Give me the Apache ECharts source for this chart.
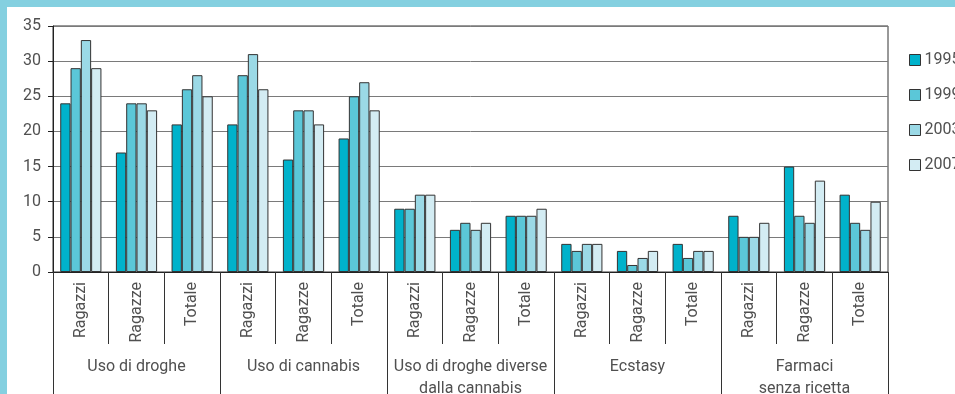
<!DOCTYPE html>
<html><head><meta charset="utf-8">
<script src="https://cdn.jsdelivr.net/npm/echarts@6/dist/echarts.min.js"></script>
<style>
html,body{margin:0;padding:0;}
#wrap{position:relative;width:955px;height:394px;background:#84d0e0;overflow:hidden;}
#panel{position:absolute;left:7px;top:7px;width:948px;height:387px;background:#fff;}
#chart{position:absolute;left:0;top:0;width:955px;height:394px;}
</style></head>
<body>
<div id="wrap"><div id="panel"></div><div id="chart"></div></div>
<script>
const categories = ['Ragazzi','Ragazze','Totale','Ragazzi','Ragazze','Totale','Ragazzi','Ragazze','Totale','Ragazzi','Ragazze','Totale','Ragazzi','Ragazze','Totale'];
const groups = ['Uso di droghe','Uso di cannabis','Uso di droghe diverse\ndalla cannabis','Ecstasy','Farmaci\nsenza ricetta'];
const years = ['1995','1999','2003','2007'];
const v1995 = [24,17,21, 21,16,19, 9,6,8, 4,3,4, 8,15,11];
const v1999 = [29,24,26, 28,23,25, 9,7,8, 3,1,2, 5,8,7];
const v2003 = [33,24,28, 31,23,27, 11,6,8, 4,2,3, 5,7,6];
const v2007 = [29,23,25, 26,21,23, 11,7,9, 4,3,3, 7,13,10];
const yTicks = {min:0, max:35, interval:5};

const colors = ['#00b2cb','#5bc7d8','#9bd9e6','#d3ecf3'];
const font = 'Roboto';
const txt = '#505050';
const values = [v1995,v1999,v2003,v2007];

const chart = echarts.init(document.getElementById('chart'), null, {renderer:'canvas'});
chart.setOption({
  animation:false,
  backgroundColor:'transparent',
  color:colors,
  textStyle:{fontFamily:font},
  grid:[
    {left:53,right:67,top:26,bottom:122,outerBoundsMode:'none',containLabel:false,show:true,borderColor:'#333',borderWidth:1,backgroundColor:'#fff'},
    {left:53,right:67,top:26,bottom:122,outerBoundsMode:'none',containLabel:false,show:false}
  ],
  legend:{
    orient:'vertical', left:904, top:47,
    icon:'rect',
    itemWidth:11, itemHeight:11, itemGap:19,
    data:years,
    textStyle:{fontFamily:font,fontWeight:400,fontSize:16,lineHeight:16,color:txt,padding:[0,0,0,-1]},
    itemStyle:{borderColor:'#333',borderWidth:1}
  },
  xAxis:[
    {type:'category',gridIndex:0,data:categories,
     axisLine:{lineStyle:{color:'#222',width:1}},
     axisTick:{show:true,interval:0,length:72,lineStyle:{color:'#333'}},
     axisLabel:{interval:0,rotate:90,margin:10,fontFamily:font,fontWeight:400,fontSize:16,color:txt}},
    {type:'category',gridIndex:1,data:groups,position:'bottom',
     axisLine:{show:false},
     axisTick:{show:true,interval:0,length:122,lineStyle:{color:'#333'}},
     axisLabel:{interval:0,margin:84,fontFamily:font,fontWeight:400,fontSize:16,lineHeight:22,color:txt,verticalAlign:'top'}}
  ],
  yAxis:[
    {type:'value',gridIndex:0,min:yTicks.min,max:yTicks.max,interval:yTicks.interval,
     axisLine:{show:true,lineStyle:{color:'#222'}},
     axisTick:{show:true,length:5,lineStyle:{color:'#222'}},
     axisLabel:{margin:12,fontFamily:font,fontWeight:400,fontSize:16,color:txt},
     splitLine:{show:true,lineStyle:{color:'#7a7a7a',width:1}}},
    {type:'value',gridIndex:1,min:0,max:1,show:false}
  ],
  series: years.map((y,i)=>({
    name:y,type:'bar',xAxisIndex:0,yAxisIndex:0,
    data:values[i],
    barGap:'0%',barCategoryGap:'26%',
    itemStyle:{color:colors[i],borderColor:'#333',borderWidth:1}
  }))
});
</script>
</body></html>
